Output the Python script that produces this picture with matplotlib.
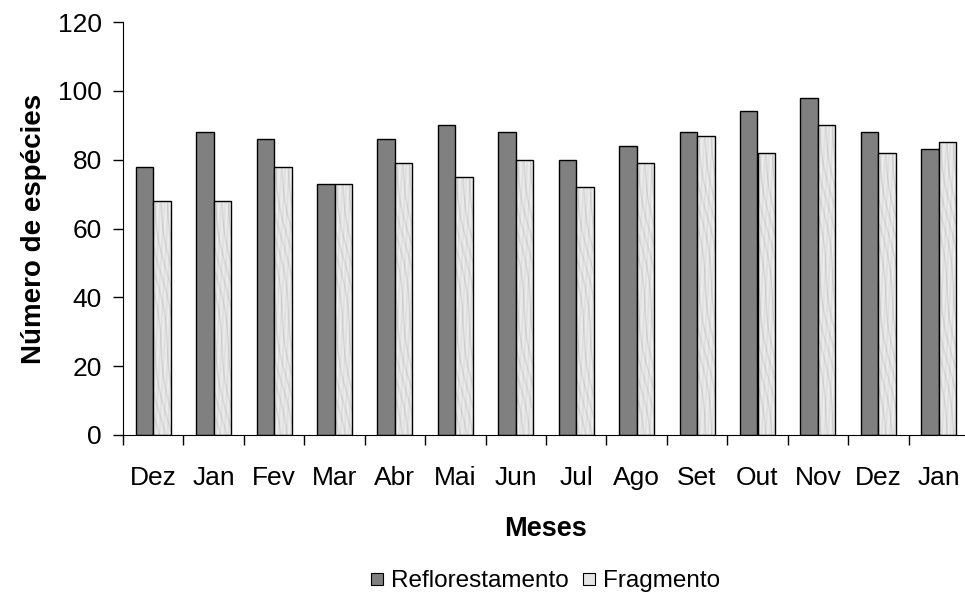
import numpy as np
import matplotlib.pyplot as plt
from matplotlib.lines import Line2D

plt.rcParams['font.family'] = ['Liberation Sans', 'DejaVu Sans']

meses = ["Dez", "Jan", "Fev", "Mar", "Abr", "Mai", "Jun", "Jul",
         "Ago", "Set", "Out", "Nov", "Dez", "Jan"]
reflorestamento = [78, 88, 86, 73, 86, 90, 88, 80, 84, 88, 94, 98, 88, 83]
fragmento = [68, 68, 78, 73, 79, 75, 80, 72, 79, 87, 82, 90, 82, 85]

fig = plt.figure(figsize=(9.65, 5.96), dpi=100)
ax = fig.add_axes([123 / 965, 1 - 435 / 596, 846 / 965, 413 / 596])

x = np.arange(len(meses))
w = 0.29
ax.bar(x - w / 2, reflorestamento, w, color="#808080", edgecolor="black",
       linewidth=1, zorder=2)
bars2 = ax.bar(x + w / 2, fragmento, w, color="#e3e5e8", edgecolor="black",
               linewidth=1, zorder=3)

# marble-ish texture for the "Fragmento" bars (just a smooth pattern)
yy, xx = np.mgrid[0:120, 0:40]
tex = (0.90 + 0.03 * np.sin(xx * 0.7 + yy * 0.3)
       - 0.12 * np.clip(np.sin(xx * 0.45 - yy * 0.6 + np.sin(yy * 0.15) * 3), 0, 1) ** 6)
for b in bars2:
    x0, h = b.get_x(), b.get_height()
    im = ax.imshow(tex[:int(h)], cmap="gray", vmin=0, vmax=1,
                   extent=[x0, x0 + w, 0, h], aspect="auto", zorder=2.5,
                   interpolation="bilinear")
    im.set_clip_path(b)
for b in bars2:
    b.set_facecolor("none")

ax.set_xlim(-0.5, len(meses) - 0.5)
ax.set_ylim(0, 120)
ax.set_yticks(range(0, 121, 20))
ax.tick_params(axis="y", labelsize=19, length=7.2, width=1, pad=8)

ax.set_xticks(np.arange(-0.5, len(meses), 1))
ax.set_xticklabels([])
ax.tick_params(axis="x", which="major", length=7.2, width=1)
ax.set_xticks(x, minor=True)
ax.set_xticklabels(meses, minor=True)
ax.tick_params(axis="x", which="minor", length=0, labelsize=19, pad=22)

for s in ["top", "right"]:
    ax.spines[s].set_visible(False)
ax.spines["left"].set_color("black")
ax.spines["bottom"].set_color("black")

ax.set_ylabel("Número de espécies", fontsize=20, fontweight="bold", labelpad=8)
ax.set_xlabel("Meses", fontsize=19.5, fontweight="bold", labelpad=19)

handles = [
    Line2D([], [], marker="s", linestyle="none", markersize=9,
           markerfacecolor="#808080", markeredgecolor="black", markeredgewidth=0.8),
    Line2D([], [], marker="s", linestyle="none", markersize=9,
           markerfacecolor="#e3e5e8", markeredgecolor="black", markeredgewidth=0.8),
]
fig.legend(handles, ["Reflorestamento", "Fragmento"], loc="center",
           bbox_to_anchor=(545 / 965, 1 - 581 / 596), ncol=2, frameon=False,
           fontsize=17.5, handlelength=0.6, handletextpad=0.3, columnspacing=0.5)

fig.savefig("out.png", dpi=100)
